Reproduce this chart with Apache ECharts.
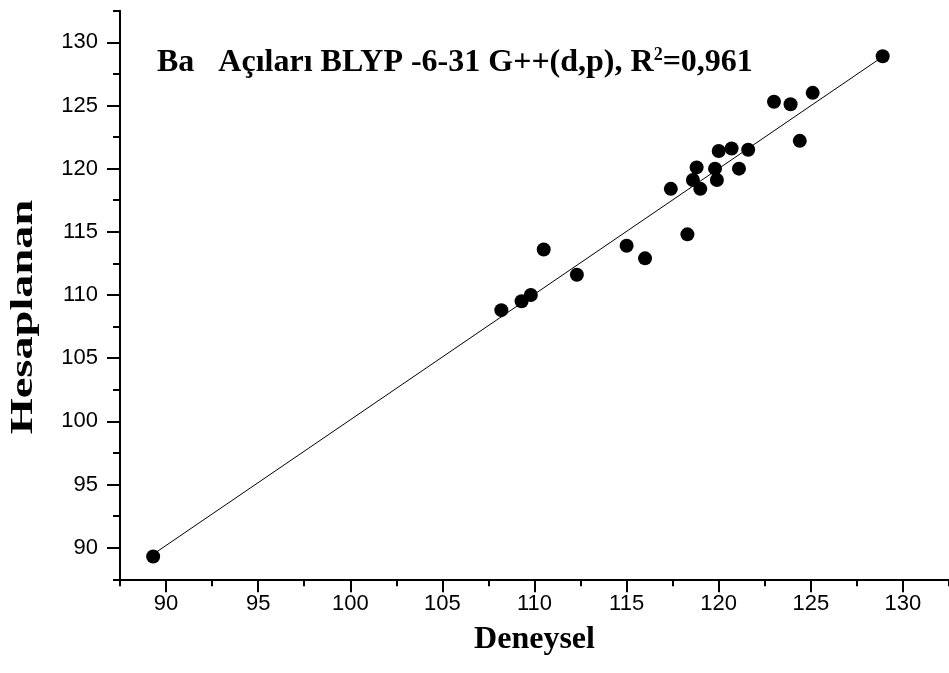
<!DOCTYPE html>
<html><head><meta charset="utf-8">
<script src="https://cdn.jsdelivr.net/npm/echarts@6/dist/echarts.min.js"></script>
<style>html,body{margin:0;padding:0;background:#fff}#c{width:949px;height:673px}</style>
</head><body><div id="c"></div>
<script>
// Data
const deneysel   = [89.3, 108.2, 109.3, 109.8, 110.5, 112.3, 115.0, 116.0, 117.4, 118.3, 118.6, 118.8, 119.0, 119.8, 119.9, 120.0, 120.7, 121.1, 121.6, 123.0, 123.9, 124.4, 125.1, 128.9];
const hesaplanan = [89.3, 108.8, 109.5, 110.0, 113.6, 111.6, 113.9, 112.9, 118.4, 114.8, 119.1, 120.1, 118.4, 120.0, 119.1, 121.4, 121.6, 120.0, 121.5, 125.3, 125.1, 122.2, 126.0, 128.9];
const majorTicks = [90, 95, 100, 105, 110, 115, 120, 125, 130];
const minorTicks = [87.5, 92.5, 97.5, 102.5, 107.5, 112.5, 117.5, 122.5, 127.5, 132.5];
const axisMin = 87.5, axisMax = 132.5;
const titleMain = 'Ba   Açıları BLYP -6-31 G++(d,p), R';
const titleSup = '2';
const titleEnd = '=0,961';
const xName = 'Deneysel';
const yName = 'Hesaplanan';

// least-squares fit of the data, drawn over the data range
const n = deneysel.length;
const mx = deneysel.reduce((a, b) => a + b, 0) / n;
const my = hesaplanan.reduce((a, b) => a + b, 0) / n;
let sxy = 0, sxx = 0;
for (let i = 0; i < n; i++) { sxy += (deneysel[i] - mx) * (hesaplanan[i] - my); sxx += (deneysel[i] - mx) ** 2; }
const slope = sxy / sxx, icpt = my - slope * mx;
const xLo = Math.min(...deneysel), xHi = Math.max(...deneysel);
const fitLine = [[xLo, icpt + slope * xLo], [xHi, icpt + slope * xHi]];
const points = deneysel.map((x, i) => [x, hesaplanan[i]]);

const lineStyle = { color: '#000', width: 2 };
const labelFont = { color: '#000', fontSize: 22, fontFamily: 'Liberation Sans, Arial, sans-serif' };
const serif = 'Liberation Serif, Times New Roman, serif';

function mkAxis(isX, major) {
  return {
    type: 'value', min: axisMin, max: axisMax, interval: 2.5,
    position: isX ? 'bottom' : 'left',
    axisLine: { show: major, onZero: false, lineStyle },
    axisTick: { show: true, inside: false, length: major ? 13 : 7, lineStyle, customValues: major ? majorTicks : minorTicks },
    axisLabel: major ? Object.assign({ show: true, margin: isX ? 14 : 22, customValues: majorTicks }, labelFont) : { show: false },
    splitLine: { show: false },
    name: major && isX ? xName : '',
    nameLocation: 'middle', nameGap: 44,
    nameTextStyle: { color: '#000', fontSize: 32, fontWeight: 'bold', fontFamily: serif }
  };
}

const chart = echarts.init(document.getElementById('c'), null, { renderer: 'canvas' });
chart.setOption({
  animation: false,
  backgroundColor: '#fff',
  grid: { left: 120, right: -6, top: 10.7, bottom: 93.7 },
  title: {
    left: 152, top: 41,
    text: '{m|' + titleMain + '}{s|' + titleSup + '}{m|' + titleEnd + '}',
    textStyle: {
      rich: {
        m: { fontSize: 32, fontWeight: 'bold', color: '#000', fontFamily: serif, verticalAlign: 'bottom' },
        s: { fontSize: 18, fontWeight: 'bold', color: '#000', fontFamily: serif, verticalAlign: 'top', padding: [0, 0, 15, 0] }
      }
    }
  },
  xAxis: [mkAxis(true, true), mkAxis(true, false)],
  yAxis: [mkAxis(false, true), mkAxis(false, false)],
  graphic: [{
    type: 'text',
    x: 24, y: 317, rotation: Math.PI / 2, scaleX: 1.45,
    style: { text: yName, fill: '#000', font: 'bold 32px "Liberation Serif", "Times New Roman", serif', align: 'center', verticalAlign: 'middle' }
  }],
  series: [
    { type: 'line', data: fitLine, xAxisIndex: 0, yAxisIndex: 0, symbol: 'none', lineStyle: { color: '#000', width: 1 }, silent: true, z: 2 },
    { type: 'scatter', data: points, xAxisIndex: 0, yAxisIndex: 0, symbol: 'circle', symbolSize: 14, itemStyle: { color: '#000', opacity: 1 }, z: 3 }
  ]
});
</script>
</body></html>
